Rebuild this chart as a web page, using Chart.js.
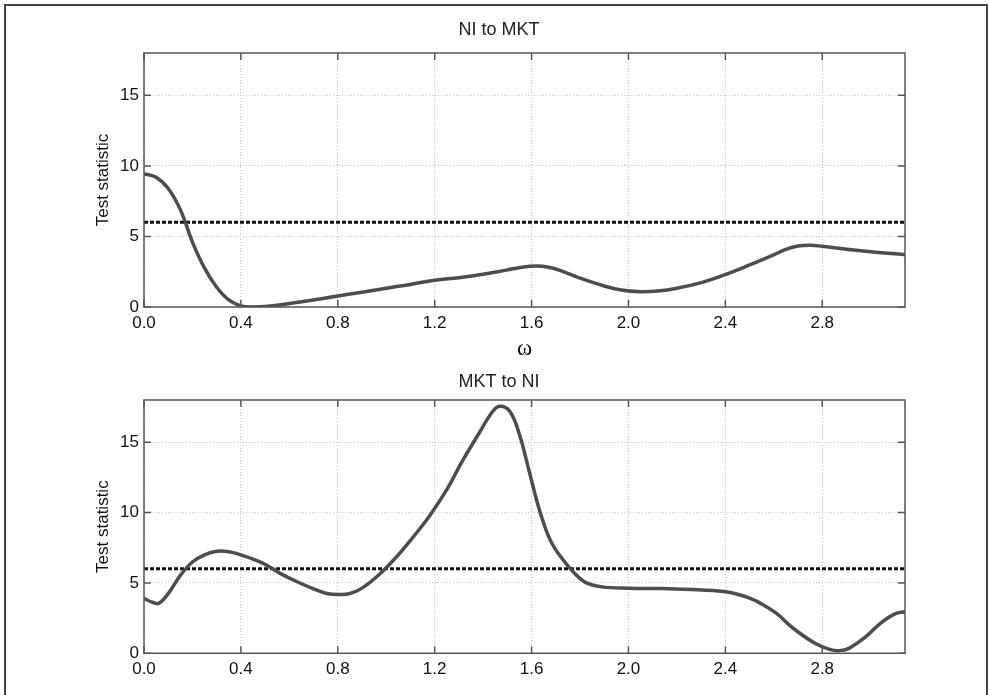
<!DOCTYPE html>
<html>
<head>
<meta charset="utf-8">
<script src="https://cdn.jsdelivr.net/npm/chart.js@4/dist/chart.umd.min.js"></script>
<style>
    body { margin: 0; background: #fff; width: 989px; height: 695px; overflow: hidden; position: relative; }
    #frame { position: absolute; left: 4px; top: 4px; width: 980px; height: 720px; border: 2px solid #444; }
    canvas { position: absolute; left: 0; }
    #topChart { top: 0; }
    #bottomChart { top: 360px; }
</style>
</head>
<body>
<div id="frame"></div>
<canvas id="topChart" width="989" height="363"></canvas>
<canvas id="bottomChart" width="989" height="335"></canvas>
<script>
// Values
const X_MAX = Math.PI;
const xTicks = [0, 0.4, 0.8, 1.2, 1.6, 2.0, 2.4, 2.8];
const yTicks = [0, 5, 10, 15];
const criticalValue = 6;

// NI to MKT
const topX = [0, 0.05, 0.1, 0.15, 0.2, 0.25, 0.3, 0.35, 0.4, 0.45, 0.5, 0.6, 0.7, 0.8, 0.9, 1.0, 1.1, 1.2, 1.3, 1.4, 1.5, 1.56, 1.62, 1.67, 1.72, 1.8, 1.9, 1.97, 2.05, 2.12, 2.2, 2.3, 2.4, 2.5, 2.6, 2.65, 2.7, 2.75, 2.8, 2.9, 3.0, 3.1, X_MAX];
const topY = [9.45, 9.2, 8.4, 6.9, 4.6, 2.75, 1.4, 0.5, 0.08, 0.0, 0.03, 0.25, 0.5, 0.78, 1.05, 1.33, 1.6, 1.9, 2.08, 2.32, 2.63, 2.82, 2.9, 2.82, 2.58, 2.04, 1.49, 1.2, 1.08, 1.13, 1.33, 1.73, 2.3, 2.98, 3.7, 4.08, 4.32, 4.38, 4.3, 4.1, 3.91, 3.77, 3.72];

// MKT to NI
const botX = [0, 0.03, 0.06, 0.1, 0.15, 0.2, 0.25, 0.3, 0.35, 0.4, 0.49, 0.56, 0.63, 0.7, 0.76, 0.81, 0.85, 0.9, 0.97, 1.04, 1.11, 1.18, 1.25, 1.31, 1.38, 1.44, 1.47, 1.51, 1.55, 1.59, 1.63, 1.67, 1.7, 1.73, 1.77, 1.82, 1.89, 2.0, 2.14, 2.28, 2.35, 2.4, 2.45, 2.5, 2.54, 2.61, 2.68, 2.77, 2.83, 2.87, 2.91, 2.98, 3.04, 3.1, X_MAX];
const botY = [3.9, 3.66, 3.55, 4.24, 5.54, 6.49, 7.0, 7.25, 7.22, 7.0, 6.41, 5.7, 5.1, 4.58, 4.23, 4.18, 4.25, 4.63, 5.58, 6.81, 8.24, 9.8, 11.63, 13.53, 15.55, 17.2, 17.56, 17.2, 15.55, 12.94, 10.33, 8.31, 7.35, 6.65, 5.82, 5.06, 4.72, 4.63, 4.6, 4.52, 4.46, 4.38, 4.2, 3.92, 3.6, 2.85, 1.78, 0.71, 0.28, 0.19, 0.35, 1.18, 2.13, 2.8, 2.96];

const SANS = "'Liberation Sans', Arial, sans-serif";

// plot box and inward tick marks, matlab style
const framePlugin = {
    id: 'frame',
    afterDraw(chart) {
        const { ctx, chartArea: a, scales } = chart;
        ctx.save();
        ctx.strokeStyle = '#555';
        ctx.lineWidth = 1.5;
        ctx.strokeRect(a.left, a.top, a.right - a.left, a.bottom - a.top);
        ctx.beginPath();
        xTicks.forEach(v => {
            const px = scales.x.getPixelForValue(v);
            ctx.moveTo(px, a.bottom); ctx.lineTo(px, a.bottom - 7);
            ctx.moveTo(px, a.top); ctx.lineTo(px, a.top + 7);
        });
        yTicks.forEach(v => {
            const py = scales.y.getPixelForValue(v);
            ctx.moveTo(a.left, py); ctx.lineTo(a.left + 7, py);
            ctx.moveTo(a.right, py); ctx.lineTo(a.right - 7, py);
        });
        ctx.stroke();
        ctx.restore();
    }
};

function makeChart(id, title, xs, ys, opts) {
    const canvas = document.getElementById(id);
    return new Chart(canvas.getContext('2d'), {
        type: 'line',
        data: {
            datasets: [{
                data: xs.map((x, i) => ({ x: x, y: ys[i] })),
                borderColor: '#4d4d4d',
                borderWidth: 3.5,
                pointRadius: 0,
                tension: 0.4,
                fill: false
            }, {
                data: [{ x: 0, y: criticalValue }, { x: X_MAX, y: criticalValue }],
                borderColor: '#111',
                borderWidth: 3,
                borderDash: [4, 2],
                pointRadius: 0,
                fill: false
            }]
        },
        options: {
            responsive: false,
            devicePixelRatio: 1,
            animation: false,
            events: [],
            layout: { padding: { left: 93, right: 84, top: 0, bottom: 0 } },
            plugins: {
                legend: { display: false },
                tooltip: { enabled: false },
                title: {
                    display: true,
                    text: title,
                    color: '#222',
                    font: { family: SANS, size: 18, weight: 'normal' },
                    padding: opts.titlePadding
                }
            },
            scales: {
                x: {
                    type: 'linear',
                    min: 0,
                    max: X_MAX,
                    afterBuildTicks: s => { s.ticks = xTicks.map(v => ({ value: v })); },
                    afterFit: s => { s.height = opts.xHeight; },
                    ticks: {
                        color: '#111',
                        padding: 6,
                        font: { family: SANS, size: 17 },
                        callback: v => v.toFixed(1)
                    },
                    grid: { color: '#c4c4c4', lineWidth: 1, drawTicks: false },
                    border: { display: false, dash: [1, 2] },
                    title: opts.xTitle
                },
                y: {
                    min: 0,
                    max: 18,
                    afterBuildTicks: s => { s.ticks = yTicks.map(v => ({ value: v })); },
                    afterFit: s => { s.width = 51; },
                    ticks: {
                        color: '#111',
                        padding: 5,
                        font: { family: SANS, size: 17 }
                    },
                    grid: { color: '#c4c4c4', lineWidth: 1, drawTicks: false },
                    border: { display: false, dash: [1, 2] },
                    title: {
                        display: true,
                        text: 'Test statistic',
                        color: '#111',
                        font: { family: SANS, size: 17 },
                        padding: 0
                    }
                }
            }
        },
        plugins: [framePlugin]
    });
}

makeChart('topChart', 'NI to MKT', topX, topY, {
    titlePadding: { top: 19, bottom: 12.4 },
    xHeight: 56,
    xTitle: {
        display: true,
        text: 'ω',
        color: '#111',
        font: { family: "'Liberation Serif', 'DejaVu Serif', serif", size: 23 },
        padding: 0
    }
});

makeChart('bottomChart', 'MKT to NI', botX, botY, {
    titlePadding: { top: 10.9, bottom: 7.5 },
    xHeight: 41.7,
    xTitle: { display: false }
});
</script>
</body>
</html>
